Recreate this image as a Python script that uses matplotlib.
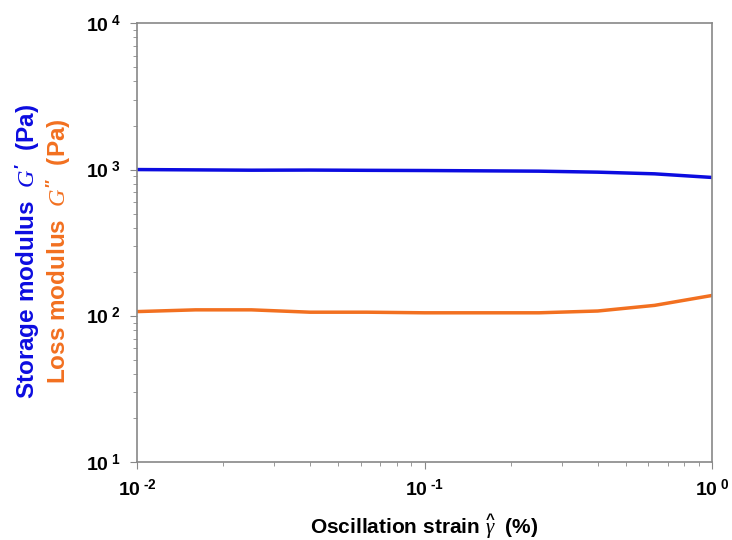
import math
import matplotlib
matplotlib.use('Agg')
import matplotlib.pyplot as plt
from matplotlib.ticker import FuncFormatter, LogLocator

plt.rcParams['font.family'] = ['Liberation Sans', 'DejaVu Sans']
plt.rcParams['mathtext.fontset'] = 'custom'
plt.rcParams['mathtext.rm'] = 'Liberation Sans:bold'
plt.rcParams['mathtext.bf'] = 'Liberation Sans:bold'
plt.rcParams['mathtext.it'] = 'Liberation Serif:italic'

# strain (%) and moduli (Pa)
strain = [0.01, 0.016, 0.025, 0.04, 0.063, 0.1, 0.16, 0.25, 0.4, 0.63, 1.0]
g_store = [1000, 995, 990, 992, 988, 985, 980, 975, 960, 935, 883]
g_loss = [107, 110, 110, 106, 106, 105, 105, 105, 108, 118, 138]

fig = plt.figure(figsize=(7.32, 5.4), dpi=100)
ax = fig.add_axes([0.187, 0.144, 0.786, 0.813])

ax.plot(strain, g_store, color='#0c0ce0', lw=2.5)
ax.plot(strain, g_loss, color='#f27020', lw=2.5)

ax.set_xscale('log')
ax.set_yscale('log')
ax.set_xlim(0.01, 1)
ax.set_ylim(10, 1e4)

def decade(v, p):
    return r'$\mathbf{10}^{\ \text{%d}}$' % round(math.log10(v))

ax.xaxis.set_major_formatter(FuncFormatter(decade))
ax.yaxis.set_major_formatter(FuncFormatter(decade))
ax.xaxis.set_minor_locator(LogLocator(subs=range(2, 10)))
ax.yaxis.set_minor_locator(LogLocator(subs=range(2, 10)))
ax.xaxis.set_minor_formatter(FuncFormatter(lambda v, p: ''))
ax.yaxis.set_minor_formatter(FuncFormatter(lambda v, p: ''))

for s in ax.spines.values():
    s.set_color('#888888')
    s.set_linewidth(1.2)
ax.tick_params(which='major', length=5, color='#888888', labelsize=14, pad=7)
ax.tick_params(which='minor', length=3, color='#888888')

ax.set_xlabel(r'Oscillation strain $\widehat{\gamma}$  (%)', fontsize=15, fontweight='bold', labelpad=9)

fig.text(0.038, 0.535, r"Storage modulus  $G'$  (Pa)", rotation=90, color='#0c0ce0',
         fontsize=17.5, fontweight='bold', ha='center', va='center')
fig.text(0.080, 0.535, r"Loss modulus  $G''$  (Pa)", rotation=90, color='#f27020',
         fontsize=17.5, fontweight='bold', ha='center', va='center')

fig.savefig('out.png', dpi=100)
